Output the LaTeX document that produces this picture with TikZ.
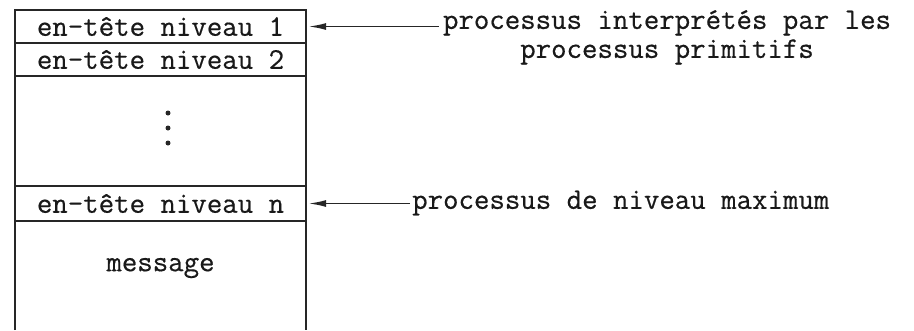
\documentclass[tikz,border=0pt]{standalone}
\usepackage{fontspec}
\setmonofont[FakeBold=0.5]{Latin Modern Mono}
\usetikzlibrary{arrows.meta}
\tikzset{
  txt/.style={font=\ttfamily\fontsize{30}{29}\selectfont, inner sep=0pt, text=black!90},
  row/.style={minimum width=291pt, inner sep=0pt},
  frame/.style={line width=2.2pt, draw=black!85},
  arr/.style={line width=1.8pt, draw=black!85, -{Latex[length=18pt,width=7pt]}},
  dot/.style={circle, fill=black!85, inner sep=0pt, minimum size=5pt}
}
\begin{document}
\begin{tikzpicture}[x=1pt,y=-1pt]
\useasboundingbox (0,0) rectangle (914,330);
% rows
\node[row, minimum height=33pt] (r1) at (160.5,26.5) {};
\node[row, minimum height=33pt] (r2) at (160.5,59.5) {};
\node[row, minimum height=35pt] (rn) at (160.5,203.5) {};
\node[row, minimum height=109pt] (msg) at (160.5,275.5) {};
\node[txt] (t1) at (r1) {en-tête niveau 1};
\node[txt] (t2) at (r2) {en-tête niveau 2};
\node[txt] (tn) at (rn) {en-tête niveau n};
\node[txt] (tm) at (160.5,268) {message};
\node[dot] (d1) at (168,113) {};
\node[dot] (d2) at (168,128) {};
\node[dot] (d3) at (168,143) {};
% frame
\draw[frame] (msg.south west) -- (r1.north west) -- (r1.north east) -- (msg.south east);
\draw[frame] (r1.south west) -- (r1.south east);
\draw[frame] (r2.south west) -- (r2.south east);
\draw[frame] (rn.north west) -- (rn.north east);
\draw[frame] (rn.south west) -- (rn.south east);
% labels
\node[txt, align=center, anchor=north] (l1) at (667,10) {processus interprétés par les\\processus primitifs};
\node[txt, anchor=west] (l2) at (412,203) {processus de niveau maximum};
\draw[arr] ([xshift=-4pt]l1.west |- r1.east) -- ([xshift=2pt]r1.east);
\draw[arr] ([xshift=-2pt]l2.west |- rn.east) -- ([xshift=2pt]rn.east);
\end{tikzpicture}
\end{document}
